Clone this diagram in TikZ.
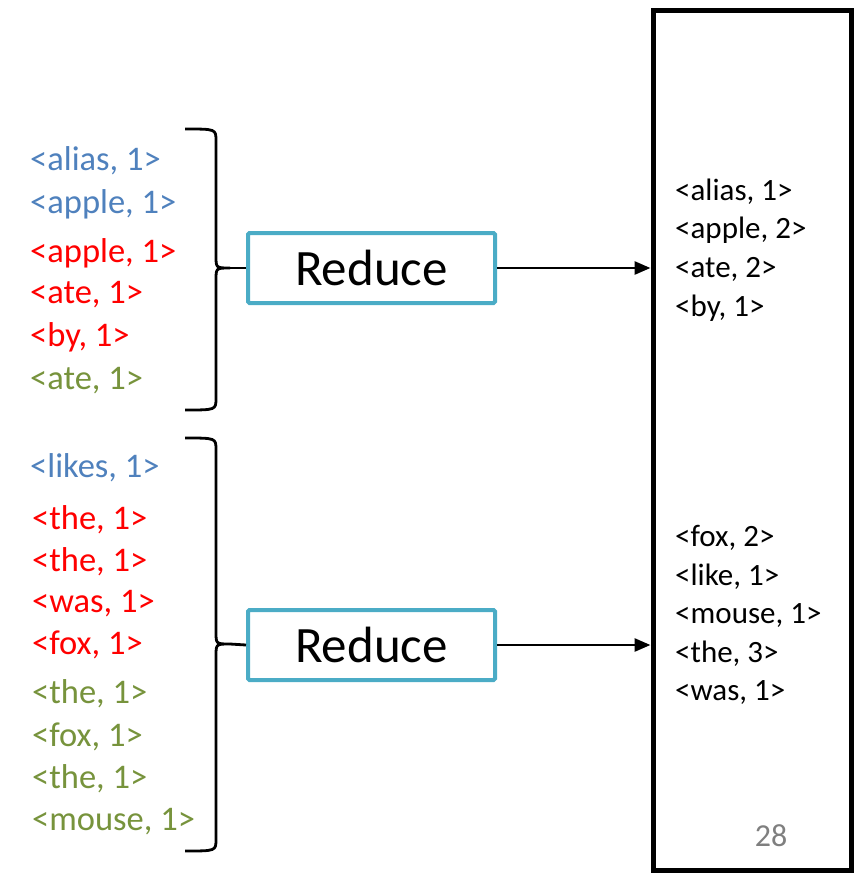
\documentclass[tikz,border=0pt]{standalone}
\usepackage{fontspec}
\setmainfont{Carlito}
\usetikzlibrary{arrows.meta}
\definecolor{kblue}{HTML}{4F81BD}
\definecolor{kred}{HTML}{FF0000}
\definecolor{kgreen}{HTML}{77933C}
\definecolor{kteal}{HTML}{4BACC6}
\definecolor{kgray}{HTML}{7F7F7F}
\tikzset{
  kv/.style={anchor=west, inner sep=0pt, font=\fontsize{34.5}{36}\selectfont},
  outkv/.style={anchor=west, inner sep=0pt, font=\fontsize{31}{33}\selectfont},
  reducebox/.style={draw=kteal, line width=4pt, rounded corners=1.5pt, minimum width=247pt, minimum height=70pt, inner sep=0pt, font=\fontsize{51}{54}\selectfont},
  brace/.style={line width=2.8pt},
  conn/.style={line width=2.8pt, -{Triangle[length=16pt,width=13pt]}},
}
\begin{document}
\begin{tikzpicture}[x=1pt,y=-1pt]
\useasboundingbox (0,0) rectangle (855,884);
% right output box
\node[draw, line width=5pt, minimum width=198pt, minimum height=860pt, inner sep=0pt] (outbox) at (752,440) {};
% left key/value pairs, top group
\node[kv, text=kblue] (a1) at (30,161) {<alias, 1>};
\node[kv, text=kblue] (a2) at (30,204) {<apple, 1>};
\node[kv, text=kred] (a3) at (30,253) {<apple, 1>};
\node[kv, text=kred] (a4) at (30,295) {<ate, 1>};
\node[kv, text=kred] (a5) at (30,337) {<by, 1>};
\node[kv, text=kgreen] (a6) at (30,381) {<ate, 1>};
% bottom group
\node[kv, text=kblue] (b1) at (30,468) {<likes, 1>};
\node[kv, text=kred] (b2) at (32,520) {<the, 1>};
\node[kv, text=kred] (b3) at (32,562) {<the, 1>};
\node[kv, text=kred] (b4) at (32,604) {<was, 1>};
\node[kv, text=kred] (b5) at (32,645) {<fox, 1>};
\node[kv, text=kgreen] (b6) at (32,694) {<the, 1>};
\node[kv, text=kgreen] (b7) at (32,737) {<fox, 1>};
\node[kv, text=kgreen] (b8) at (32,779) {<the, 1>};
\node[kv, text=kgreen] (b9) at (32,822) {<mouse, 1>};
% reduce boxes
\node[reducebox] (r1) at (371.5,268) {Reduce};
\node[reducebox] (r2) at (371.5,645) {Reduce};
% braces
\coordinate (t1) at (230,268);
\coordinate (t2) at (230,644);
\draw[brace] (185,129) .. controls (216,129) .. (216,141) -- (216,256) .. controls (216,268) .. (t1) .. controls (216,268) .. (216,280) -- (216,398) .. controls (216,410) .. (185,410);
\draw[brace] (185,438) .. controls (216,438) .. (216,450) -- (216,632) .. controls (216,644) .. (t2) .. controls (216,644) .. (216,656) -- (216,839) .. controls (216,851) .. (185,851);
\draw[brace] (t1) -- (r1.west);
\draw[brace] (t2) -- (r2.west);
% arrows
\draw[conn] (r1.east) -- (r1.east -| outbox.west);
\draw[conn] (r2.east) -- (r2.east -| outbox.west);
% outputs
\node[outkv] (o1) at (675,192) {<alias, 1>};
\node[outkv] (o2) at (675,230) {<apple, 2>};
\node[outkv] (o3) at (675,269) {<ate, 2>};
\node[outkv] (o4) at (675,308) {<by, 1>};
\node[outkv] (p1) at (675,538) {<fox, 2>};
\node[outkv] (p2) at (675,577) {<like, 1>};
\node[outkv] (p3) at (675,615) {<mouse, 1>};
\node[outkv] (p4) at (675,654) {<the, 3>};
\node[outkv] (p5) at (675,692) {<was, 1>};
\node[inner sep=0pt, text=kgray, font=\fontsize{32}{34}\selectfont] (pg) at (771,836) {28};
\end{tikzpicture}
\end{document}
